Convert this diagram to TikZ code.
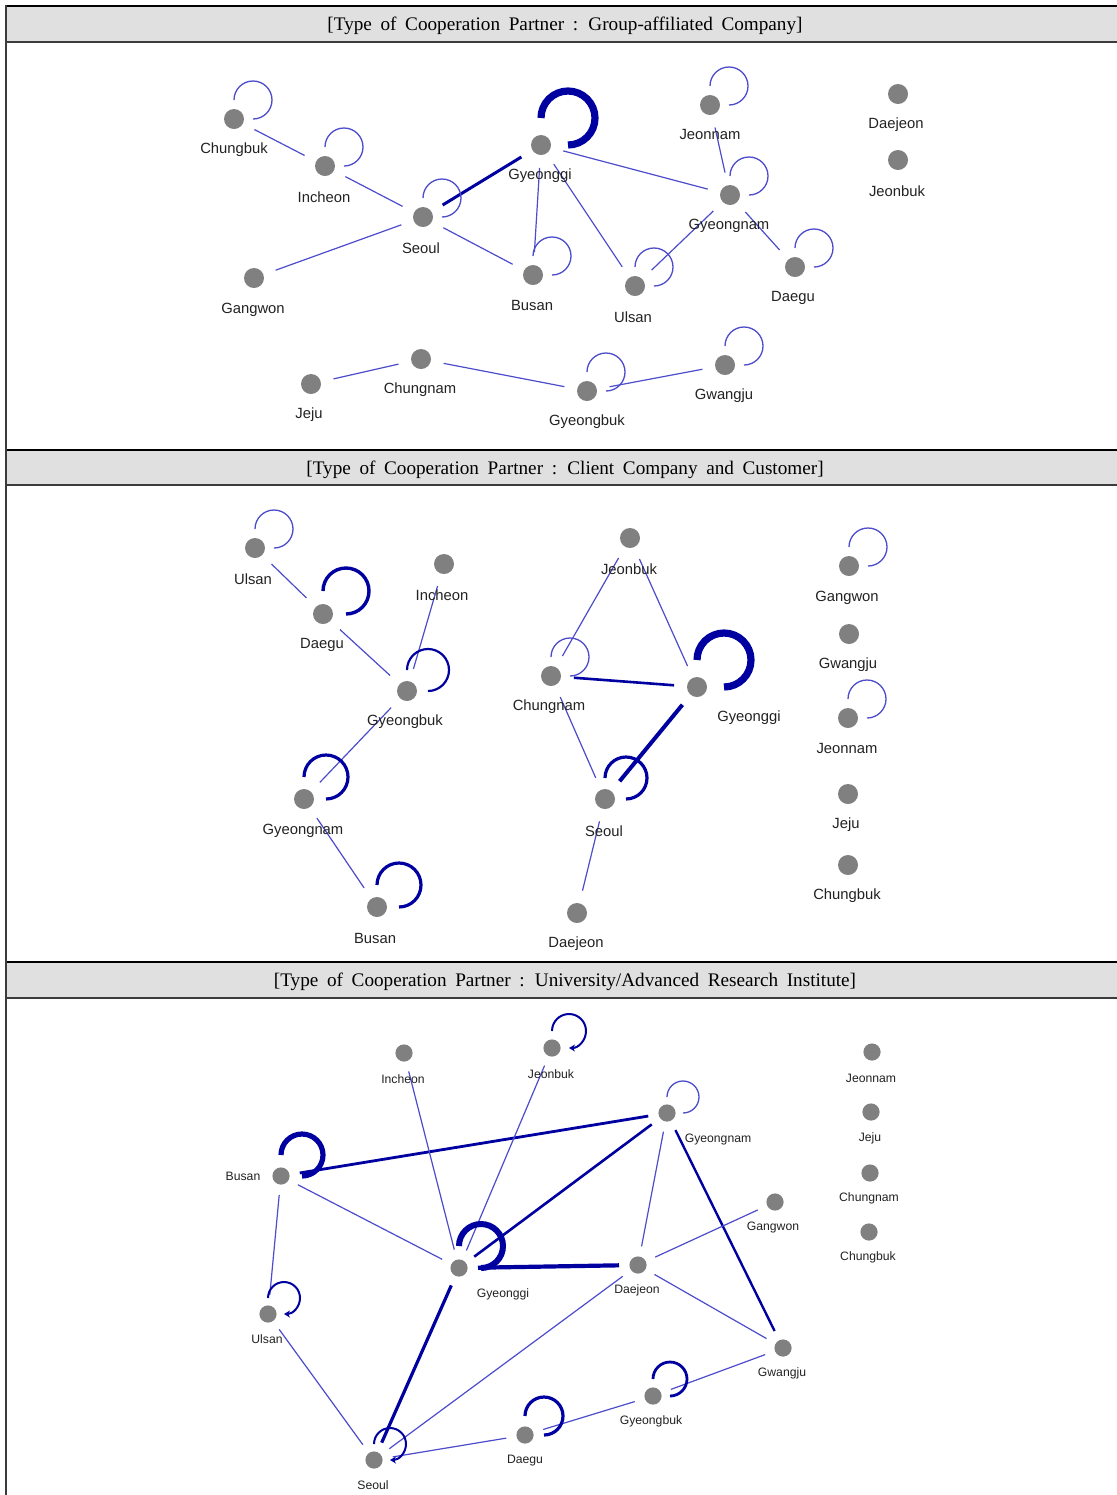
\documentclass[tikz,border=0pt]{standalone}
\usepackage{fontspec}
\setmainfont{Liberation Sans}
\newfontfamily\hdrfont[WordSpace=1.8]{Liberation Serif}
\usetikzlibrary{arrows.meta}
\definecolor{edgethin}{RGB}{76,76,204}
\definecolor{edgedark}{RGB}{0,0,160}
\definecolor{nodegray}{RGB}{128,128,128}
\definecolor{hdrgray}{RGB}{224,224,224}
\definecolor{txtc}{RGB}{34,34,34}
\definecolor{framec}{RGB}{60,60,60}
\newcommand\selfloop[3]{\draw[#1] ([yshift=#3*0.5pt]#2.center) arc[start angle=180,end angle=450,radius=#3];}
\tikzset{
  dot/.style={circle,fill=nodegray,inner sep=0pt,minimum size=10pt},
  sdot/.style={circle,fill=nodegray,inner sep=0pt,minimum size=8.6pt},
  lbl/.style={font=\fontsize{7.4}{8}\selectfont,text=txtc,inner sep=0pt,yshift=-0.9pt},
  slbl/.style={font=\fontsize{6.1}{7}\selectfont,text=txtc,inner sep=0pt,yshift=-0.6pt},
  hdr/.style={font=\hdrfont\fontsize{9.6}{11}\selectfont,text=black,inner sep=0pt,yshift=-1pt},
  ethin/.style={draw=edgethin,line width=0.6pt},
  edark/.style={draw=edgedark,line width=#1},
  gapA/.style={shorten <=11.5pt,shorten >=11.5pt},
  gapC/.style={shorten <=9.5pt,shorten >=9.5pt},
  lpthin/.style={draw=edgethin,line width=0.65pt},
  lpdark/.style={draw=edgedark,line width=#1},
  tip/.style={-{Stealth[length=3pt,width=3.5pt]}},
}
\begin{document}
\begin{tikzpicture}[x=0.5pt,y=-0.5pt]
\useasboundingbox (0,0) rectangle (1117,1495);
% frame and header bars
\fill[white] (0,0) rectangle (1117,1495);
\foreach \ya/\yb in {6/42,450/485,962/998}{
  \fill[hdrgray] (6,\ya) rectangle (1117,\yb);
  \draw[black,line width=1pt] (6,\ya) -- (1117,\ya);
  \draw[framec,line width=1pt] (6,\yb) -- (1117,\yb);
}
\draw[framec,line width=1.2pt] (6,5) -- (6,1495);
\node[hdr] (hdrA) at (565,24) {[Type of Cooperation Partner : Group-affiliated Company]};
\node[hdr] (hdrB) at (565,468) {[Type of Cooperation Partner : Client Company and Customer]};
\node[hdr] (hdrC) at (565,980) {[Type of Cooperation Partner : University/Advanced Research Institute]};

% ---------------- Panel 1 ----------------
\node[dot] (aChungbuk) at (234,119) {};
\node[dot] (aIncheon) at (325,166) {};
\node[dot] (aSeoul) at (423,217) {};
\node[dot] (aGangwon) at (254,278) {};
\node[dot] (aGyeonggi) at (541,145) {};
\node[dot] (aBusan) at (533,275) {};
\node[dot] (aJeonnam) at (710,105) {};
\node[dot] (aGyeongnam) at (730,195) {};
\node[dot] (aUlsan) at (635,286) {};
\node[dot] (aDaegu) at (795,267) {};
\node[dot] (aDaejeon) at (898,94) {};
\node[dot] (aJeonbuk) at (898,160) {};
\node[dot] (aJeju) at (311,384) {};
\node[dot] (aChungnam) at (421,359) {};
\node[dot] (aGyeongbuk) at (587,391) {};
\node[dot] (aGwangju) at (725,365) {};

\draw[ethin,gapA] (aChungbuk.center) -- (aIncheon.center);
\draw[ethin,gapA] (aIncheon.center) -- (aSeoul.center);
\draw[ethin,gapA] (aSeoul.center) -- (aGangwon.center);
\draw[edark=1.5pt,gapA] (aSeoul.center) -- (aGyeonggi.center);
\draw[ethin,gapA] (aSeoul.center) -- (aBusan.center);
\draw[ethin,gapA] (aGyeonggi.center) -- (aBusan.center);
\draw[ethin,gapA] (aGyeonggi.center) -- (aUlsan.center);
\draw[ethin,gapA] (aGyeonggi.center) -- (aGyeongnam.center);
\draw[ethin,gapA] (aJeonnam.center) -- (aGyeongnam.center);
\draw[ethin,gapA] (aGyeongnam.center) -- (aUlsan.center);
\draw[ethin,gapA] (aGyeongnam.center) -- (aDaegu.center);
\draw[ethin,gapA] (aJeju.center) -- (aChungnam.center);
\draw[ethin,gapA] (aChungnam.center) -- (aGyeongbuk.center);
\draw[ethin,gapA] (aGyeongbuk.center) -- (aGwangju.center);

\selfloop{lpthin}{aChungbuk}{19}
\selfloop{lpthin}{aIncheon}{19}
\selfloop{lpthin}{aSeoul}{19}
\selfloop{lpdark=3.6pt}{aGyeonggi}{27}
\selfloop{lpthin}{aBusan}{19}
\selfloop{lpthin}{aJeonnam}{19}
\selfloop{lpthin}{aGyeongnam}{19}
\selfloop{lpthin}{aUlsan}{19}
\selfloop{lpthin}{aDaegu}{19}
\selfloop{lpthin}{aGyeongbuk}{19}
\selfloop{lpthin}{aGwangju}{19}

\node[lbl] (laChungbuk) at (234,148) {Chungbuk};
\node[lbl] (laIncheon) at (324,195) {Incheon};
\node[lbl] (laSeoul) at (421,246) {Seoul};
\node[lbl] (laGangwon) at (253,308) {Gangwon};
\node[lbl] (laGyeonggi) at (540,174) {Gyeonggi};
\node[lbl] (laBusan) at (532,304) {Busan};
\node[lbl] (laJeonnam) at (710,133) {Jeonnam};
\node[lbl] (laGyeongnam) at (729,224) {Gyeongnam};
\node[lbl] (laUlsan) at (633,315) {Ulsan};
\node[lbl] (laDaegu) at (793,296) {Daegu};
\node[lbl] (laDaejeon) at (896,123) {Daejeon};
\node[lbl] (laJeonbuk) at (897,189) {Jeonbuk};
\node[lbl] (laJeju) at (309,413) {Jeju};
\node[lbl] (laChungnam) at (420,388) {Chungnam};
\node[lbl] (laGyeongbuk) at (587,420) {Gyeongbuk};
\node[lbl] (laGwangju) at (724,394) {Gwangju};

% ---------------- Panel 2 ----------------
\node[dot] (bUlsan) at (255,548) {};
\node[dot] (bDaegu) at (323,614) {};
\node[dot] (bIncheon) at (444,564) {};
\node[dot] (bGyeongbuk) at (407,691) {};
\node[dot] (bGyeongnam) at (304,799) {};
\node[dot] (bBusan) at (377,907) {};
\node[dot] (bJeonbuk) at (630,538) {};
\node[dot] (bChungnam) at (551,676) {};
\node[dot] (bGyeonggi) at (697,687) {};
\node[dot] (bSeoul) at (605,799) {};
\node[dot] (bDaejeon) at (577,913) {};
\node[dot] (bGangwon) at (849,566) {};
\node[dot] (bGwangju) at (849,634) {};
\node[dot] (bJeonnam) at (848,718) {};
\node[dot] (bJeju) at (848,794) {};
\node[dot] (bChungbuk) at (848,865) {};

\draw[ethin,gapA] (bUlsan.center) -- (bDaegu.center);
\draw[ethin,gapA] (bDaegu.center) -- (bGyeongbuk.center);
\draw[ethin,gapA] (bIncheon.center) -- (bGyeongbuk.center);
\draw[ethin,gapA] (bGyeongbuk.center) -- (bGyeongnam.center);
\draw[ethin,gapA] (bGyeongnam.center) -- (bBusan.center);
\draw[ethin,gapA] (bJeonbuk.center) -- (bChungnam.center);
\draw[ethin,gapA] (bJeonbuk.center) -- (bGyeonggi.center);
\draw[edark=1.3pt,gapA] (bChungnam.center) -- (bGyeonggi.center);
\draw[ethin,gapA] (bChungnam.center) -- (bSeoul.center);
\draw[edark=2pt,gapA] (bGyeonggi.center) -- (bSeoul.center);
\draw[ethin,gapA] (bSeoul.center) -- (bDaejeon.center);

\selfloop{lpthin}{bUlsan}{19}
\selfloop{lpdark=1.7pt}{bDaegu}{23}
\selfloop{lpdark=1.1pt}{bGyeongbuk}{21}
\selfloop{lpdark=1.6pt}{bGyeongnam}{22}
\selfloop{lpdark=1.6pt}{bBusan}{22}
\selfloop{lpthin}{bChungnam}{19}
\selfloop{lpdark=3.6pt}{bGyeonggi}{27}
\selfloop{lpdark=1.6pt}{bSeoul}{21}
\selfloop{lpthin}{bGangwon}{19}
\selfloop{lpthin}{bJeonnam}{19}

\node[lbl] (lbUlsan) at (253,577) {Ulsan};
\node[lbl] (lbDaegu) at (322,643) {Daegu};
\node[lbl] (lbIncheon) at (442,593) {Incheon};
\node[lbl] (lbGyeongbuk) at (405,720) {Gyeongbuk};
\node[lbl] (lbGyeongnam) at (303,829) {Gyeongnam};
\node[lbl] (lbBusan) at (375,937) {Busan};
\node[lbl] (lbJeonbuk) at (629,567) {Jeonbuk};
\node[lbl] (lbChungnam) at (549,705) {Chungnam};
\node[lbl] (lbGyeonggi) at (749,716) {Gyeonggi};
\node[lbl] (lbSeoul) at (604,829) {Seoul};
\node[lbl] (lbDaejeon) at (576,942) {Daejeon};
\node[lbl] (lbGangwon) at (847,596) {Gangwon};
\node[lbl] (lbGwangju) at (848,663) {Gwangju};
\node[lbl] (lbJeonnam) at (847,747) {Jeonnam};
\node[lbl] (lbJeju) at (846,823) {Jeju};
\node[lbl] (lbChungbuk) at (847,894) {Chungbuk};

% ---------------- Panel 3 ----------------
\node[sdot] (cIncheon) at (404,1053) {};
\node[sdot] (cJeonbuk) at (552,1048) {};
\node[sdot] (cGyeongnam) at (667,1113) {};
\node[sdot] (cBusan) at (281,1176) {};
\node[sdot] (cGyeonggi) at (459,1268) {};
\node[sdot] (cDaejeon) at (638,1265) {};
\node[sdot] (cGangwon) at (775,1202) {};
\node[sdot] (cGwangju) at (783,1348) {};
\node[sdot] (cUlsan) at (268,1314) {};
\node[sdot] (cSeoul) at (374,1460) {};
\node[sdot] (cDaegu) at (525,1435) {};
\node[sdot] (cGyeongbuk) at (653,1396) {};
\node[sdot] (cJeonnam) at (872,1052) {};
\node[sdot] (cJeju) at (871,1112) {};
\node[sdot] (cChungnam) at (870,1173) {};
\node[sdot] (cChungbuk) at (869,1232) {};

\draw[edark=1.4pt,gapC] (cBusan.center) -- (cGyeongnam.center);
\draw[ethin,gapC] (cBusan.center) -- (cGyeonggi.center);
\draw[ethin,gapC] (cBusan.center) -- (cUlsan.center);
\draw[ethin,gapC] (cIncheon.center) -- (cGyeonggi.center);
\draw[ethin,gapC] (cJeonbuk.center) -- (cGyeonggi.center);
\draw[edark=1.3pt,gapC] (cGyeonggi.center) -- (cGyeongnam.center);
\draw[edark=2.1pt,gapC] (cGyeonggi.center) -- (cDaejeon.center);
\draw[edark=1.6pt,gapC] (cGyeonggi.center) -- (cSeoul.center);
\draw[ethin,gapC] (cGyeongnam.center) -- (cDaejeon.center);
\draw[edark=1.2pt,gapC] (cGyeongnam.center) -- (cGwangju.center);
\draw[ethin,gapC] (cDaejeon.center) -- (cGangwon.center);
\draw[ethin,gapC] (cDaejeon.center) -- (cGwangju.center);
\draw[ethin,gapC] (cDaejeon.center) -- (cSeoul.center);
\draw[ethin,gapC] (cUlsan.center) -- (cSeoul.center);
\draw[ethin,gapC] (cSeoul.center) -- (cDaegu.center);
\draw[ethin,gapC] (cDaegu.center) -- (cGyeongbuk.center);
\draw[ethin,gapC] (cGyeongbuk.center) -- (cGwangju.center);

\selfloop{lpdark=1pt,tip}{cJeonbuk}{17}
\selfloop{lpthin}{cGyeongnam}{16}
\selfloop{lpdark=2.6pt}{cBusan}{21}
\selfloop{lpdark=3pt}{cGyeonggi}{22}
\selfloop{lpdark=1pt,tip}{cUlsan}{16}
\selfloop{lpdark=1pt,tip}{cSeoul}{16}
\selfloop{lpdark=1.6pt}{cDaegu}{19}
\selfloop{lpdark=1.4pt}{cGyeongbuk}{17}

\node[slbl] (lcIncheon) at (403,1078) {Incheon};
\node[slbl] (lcJeonbuk) at (551,1073) {Jeonbuk};
\node[slbl] (lcGyeongnam) at (718,1138) {Gyeongnam};
\node[slbl] (lcBusan) at (243,1175) {Busan};
\node[slbl] (lcGyeonggi) at (503,1293) {Gyeonggi};
\node[slbl] (lcDaejeon) at (637,1289) {Daejeon};
\node[slbl] (lcGangwon) at (773,1226) {Gangwon};
\node[slbl] (lcGwangju) at (782,1372) {Gwangju};
\node[slbl] (lcUlsan) at (267,1338) {Ulsan};
\node[slbl] (lcSeoul) at (373,1484) {Seoul};
\node[slbl] (lcDaegu) at (525,1459) {Daegu};
\node[slbl] (lcGyeongbuk) at (651,1420) {Gyeongbuk};
\node[slbl] (lcJeonnam) at (871,1077) {Jeonnam};
\node[slbl] (lcJeju) at (870,1137) {Jeju};
\node[slbl] (lcChungnam) at (869,1197) {Chungnam};
\node[slbl] (lcChungbuk) at (868,1256) {Chungbuk};
\end{tikzpicture}
\end{document}
